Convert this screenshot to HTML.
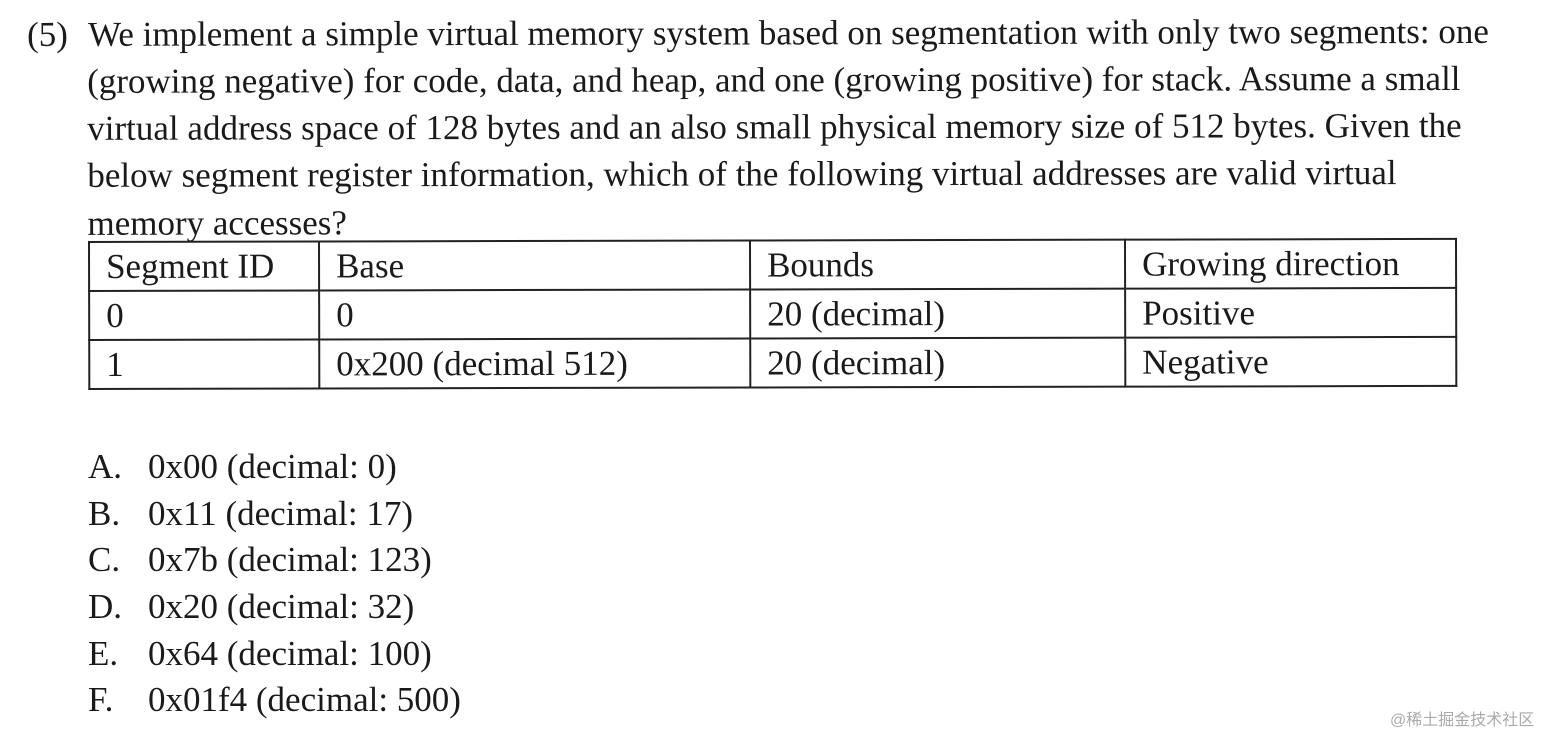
<!DOCTYPE html>
<html><head><meta charset="utf-8">
<style>
html,body{margin:0;padding:0;background:#fff;}
body{width:1558px;height:732px;position:relative;overflow:hidden;font-family:"Liberation Serif","Times New Roman",serif;color:#1a1a1a;}
.t{position:absolute;white-space:nowrap;font-size:35px;line-height:1;}
table{position:absolute;left:88px;top:241px;border-collapse:collapse;transform:rotate(-0.13deg);transform-origin:left top;}
td{border:2px solid #222;font-size:35px;padding:0 0 0 16px;height:47px;vertical-align:middle;white-space:nowrap;}
.wm{position:absolute;left:1390px;top:706px;font-family:"Liberation Sans","Noto Sans CJK SC",sans-serif;font-size:16px;color:#aaa;}
.rot{transform:rotate(-0.12deg);transform-origin:left top;}
</style></head><body>
<div class="rot">
<div class="t" style="left:27px;top:17px;">(5)</div>
<div class="t" style="left:88px;top:17px;">We implement a simple virtual memory system based on segmentation with only two segments: one</div>
<div class="t" style="left:87px;top:64px;">(growing negative) for code, data, and heap, and one (growing positive) for stack. Assume a small</div>
<div class="t" style="left:87px;top:111px;">virtual address space of 128 bytes and an also small physical memory size of 512 bytes. Given the</div>
<div class="t" style="left:87px;top:158px;">below segment register information, which of the following virtual addresses are valid virtual</div>
<div class="t" style="left:87px;top:206px;">memory accesses?</div>
</div>
<table>
<tr><td style="width:212px">Segment ID</td><td style="width:413px">Base</td><td style="width:357px">Bounds</td><td style="width:313px">Growing direction</td></tr>
<tr><td>0</td><td>0</td><td>20 (decimal)</td><td>Positive</td></tr>
<tr><td>1</td><td>0x200 (decimal 512)</td><td>20 (decimal)</td><td>Negative</td></tr>
</table>
<div class="t" style="left:88px;top:449px;">A.</div><div class="t" style="left:148px;top:449px;">0x00 (decimal: 0)</div>
<div class="t" style="left:88px;top:496px;">B.</div><div class="t" style="left:148px;top:496px;">0x11 (decimal: 17)</div>
<div class="t" style="left:88px;top:542px;">C.</div><div class="t" style="left:148px;top:542px;">0x7b (decimal: 123)</div>
<div class="t" style="left:88px;top:589px;">D.</div><div class="t" style="left:148px;top:589px;">0x20 (decimal: 32)</div>
<div class="t" style="left:88px;top:636px;">E.</div><div class="t" style="left:148px;top:636px;">0x64 (decimal: 100)</div>
<div class="t" style="left:88px;top:682px;">F.</div><div class="t" style="left:148px;top:682px;">0x01f4 (decimal: 500)</div>
<div class="wm">@稀土掘金技术社区</div>
</body></html>
